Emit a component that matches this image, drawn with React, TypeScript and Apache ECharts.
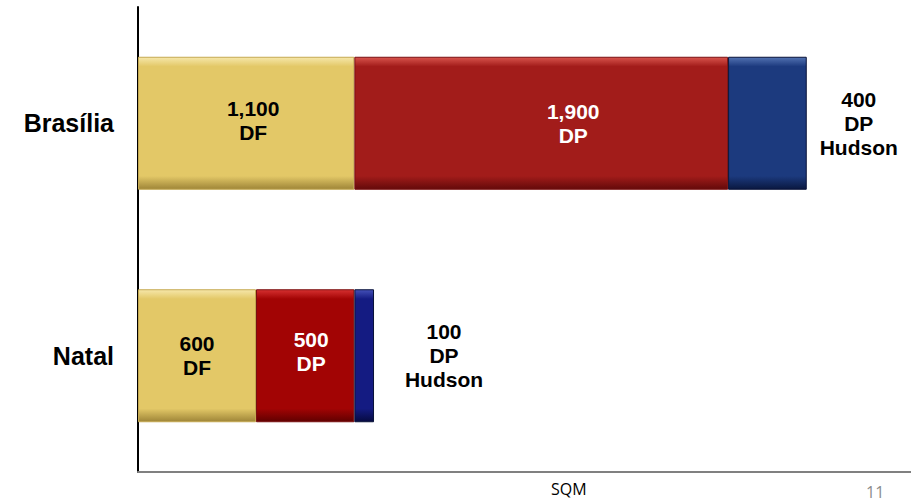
import React, { useEffect, useRef } from "react";
import * as echarts from "echarts";

// Floor area by site, split by tenant (square metres)
const categories = ["Brasília", "Natal"];
const dfValues = [1100, 600];
const dpValues = [1900, 500];
const hudsonValues = [400, 100];

const axisName = "SQM";
const pageNumber = "11";

const FONT = "Arial, Liberation Sans, sans-serif";

// Bevel-like fill: light top edge, flat face, darker bottom edge
function bevel(light: string, main: string, dark: string) {
  return new echarts.graphic.LinearGradient(0, 0, 0, 1, [
    { offset: 0, color: light },
    { offset: 0.07, color: main },
    { offset: 0.9, color: main },
    { offset: 1, color: dark },
  ]);
}

const dfFill = [
  bevel("#F6E7AA", "#E3C867", "#9E8538"),
  bevel("#F6E7AA", "#E3C867", "#9E8538"),
];
const dpFill = [
  bevel("#D8544C", "#A21C1A", "#640A0A"),
  bevel("#D63030", "#A20404", "#600000"),
];
const hudsonFill = [
  bevel("#5272B2", "#1C3A7E", "#0A1840"),
  bevel("#4450B8", "#141B82", "#060A40"),
];

// Fine placement of the in-bar labels [dx, dy]
const dfOffsets = [[7, -3], [0, 0]];
const dpOffsets = [[32, 0], [6, -4]];
const hudsonDistance = [52, 70];

const labelBase = {
  show: true,
  fontFamily: FONT,
  fontWeight: "bold" as const,
  fontSize: 21,
  lineHeight: 24,
};

export default function App() {
  const ref = useRef<HTMLDivElement>(null);

  useEffect(() => {
    if (!ref.current) return;
    const chart = echarts.init(ref.current, undefined, { renderer: "svg" });

    const fmt = (v: number) => v.toLocaleString("en-US");

    chart.setOption({
      animation: false,
      backgroundColor: "#ffffff",
      grid: { left: 138, right: 0, top: 7, height: 465 },
      xAxis: {
        type: "value",
        min: 0,
        max: 3930,
        axisLine: { show: true, lineStyle: { color: "#808080", width: 2 } },
        axisTick: { show: false },
        axisLabel: { show: false },
        splitLine: { show: false },
      },
      yAxis: {
        type: "category",
        inverse: true,
        data: categories,
        axisLine: { show: true, onZero: false, lineStyle: { color: "#000000", width: 2 } },
        axisTick: { show: false },
        axisLabel: {
          fontFamily: FONT,
          fontWeight: "bold",
          fontSize: 25,
          color: "#000000",
          margin: 24,
        },
      },
      series: [
        {
          name: "DF",
          type: "bar",
          stack: "total",
          barWidth: 133,
          data: dfValues.map((v, i) => ({
            value: v,
            itemStyle: { color: dfFill[i], borderColor: "#C4A850", borderWidth: 1 },
            label: { offset: dfOffsets[i] },
          })),
          label: {
            ...labelBase,
            position: "inside",
            color: "#000000",
            formatter: (p: any) => `${fmt(p.value)}\nDF`,
          },
        },
        {
          name: "DP",
          type: "bar",
          stack: "total",
          barWidth: 133,
          data: dpValues.map((v, i) => ({
            value: v,
            itemStyle: { color: dpFill[i], borderColor: "#7A1010", borderWidth: 1 },
            label: { offset: dpOffsets[i] },
          })),
          label: {
            ...labelBase,
            position: "inside",
            color: "#ffffff",
            formatter: (p: any) => `${fmt(p.value)}\nDP`,
          },
        },
        {
          name: "DP Hudson",
          type: "bar",
          stack: "total",
          barWidth: 133,
          data: hudsonValues.map((v, i) => ({
            value: v,
            itemStyle: { color: hudsonFill[i], borderColor: "#081238", borderWidth: 1 },
            label: { distance: hudsonDistance[i] },
          })),
          label: {
            ...labelBase,
            position: "right",
            align: "center",
            color: "#000000",
            formatter: (p: any) => `${fmt(p.value)}\nDP\nHudson`,
          },
        },
      ],
      graphic: [
        {
          type: "text",
          left: 551,
          top: 481,
          style: {
            text: axisName,
            fontFamily: "Open Sans, sans-serif",
            fontSize: 16,
            fill: "#000000",
          },
        },
        {
          type: "text",
          left: 866,
          top: 484,
          style: {
            text: pageNumber,
            fontFamily: "Open Sans, sans-serif",
            fontSize: 16,
            fill: "#8C8C8C",
          },
        },
      ],
    });

    return () => chart.dispose();
  }, []);

  return (
    <div
      ref={ref}
      style={{ position: "absolute", left: 0, top: 0, width: 911, height: 502 }}
    />
  );
}
